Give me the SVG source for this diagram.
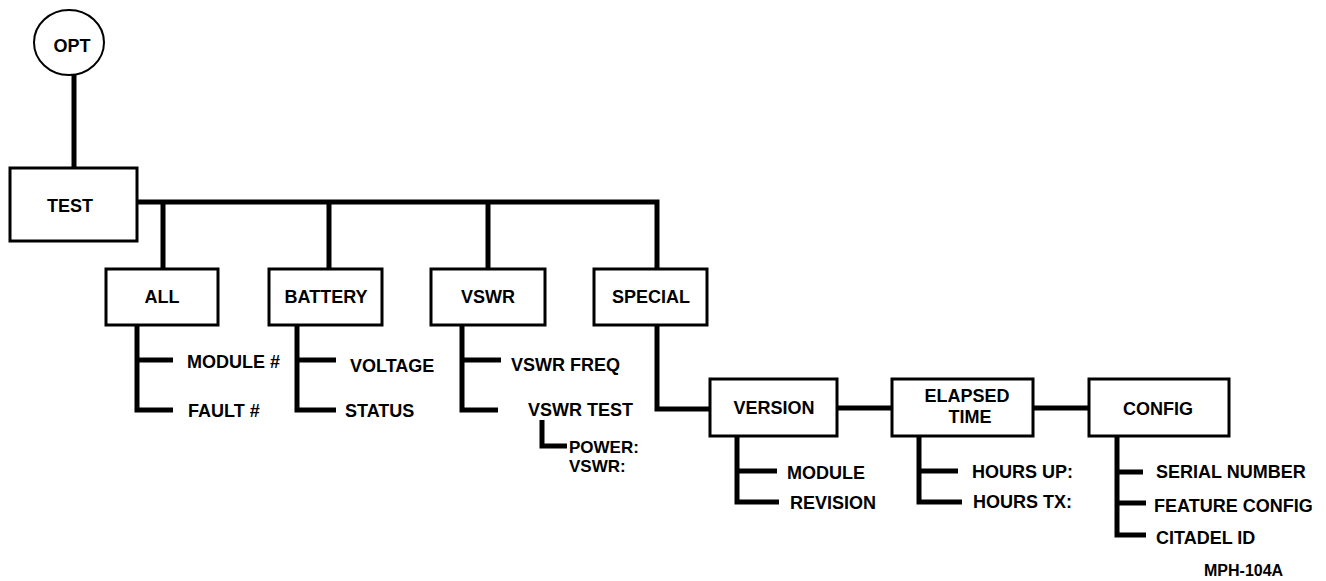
<svg xmlns="http://www.w3.org/2000/svg" width="1326" height="581" viewBox="0 0 1326 581">
<style>
.box{fill:#fff;stroke:#000;stroke-width:3}
.circ{fill:#fff;stroke:#000;stroke-width:2}
.ln{fill:none;stroke:#000;stroke-width:5;stroke-linecap:butt;stroke-linejoin:miter}
text{font-family:"Liberation Sans",Arial,sans-serif;font-weight:bold;font-size:18px;fill:#000}
.c{text-anchor:middle}
.s{font-size:16px}
.t{font-size:17px}
</style>
<rect width="1326" height="581" fill="#fff"/>
<g id="connectors">
<path class="ln" d="M74,75 V168"/>
<path class="ln" d="M137,202 H657 V269"/>
<path class="ln" d="M163,202 V269 M329,202 V269 M488,202 V269"/>
<path class="ln" d="M137,325 V412.5 M134.5,360 H173 M134.5,410 H173"/>
<path class="ln" d="M297,325 V412.5 M294.5,360 H336 M294.5,410 H336"/>
<path class="ln" d="M462,325 V412.5 M459.5,360 H501 M459.5,410 H498"/>
<path class="ln" d="M542,420 V446 H567"/>
<path class="ln" d="M657,325 V409 H710"/>
<path class="ln" d="M837,408 H892 M1033,408 H1089"/>
<path class="ln" d="M737,436 V504.5 M734.5,471 H777 M734.5,502 H779"/>
<path class="ln" d="M919,436 V504.5 M916.5,471 H958 M916.5,502 H962"/>
<path class="ln" d="M1117,436 V537.5 M1114.5,472 H1143 M1114.5,503 H1146 M1114.5,535 H1146"/>
</g>
<g id="opt"><ellipse class="circ" cx="69" cy="42.5" rx="35" ry="32.5"/><text class="c" x="72" y="51.5" font-size="17">OPT</text></g>
<g id="test"><rect class="box" x="10" y="168" width="127" height="73"/><text class="c" x="70" y="211.5">TEST</text></g>
<g id="all"><rect class="box" x="106" y="269" width="112" height="56"/><text class="c" x="162" y="303">ALL</text></g>
<g id="battery"><rect class="box" x="269" y="269" width="113" height="56"/><text class="c" x="326" y="303">BATTERY</text></g>
<g id="vswr"><rect class="box" x="431" y="269" width="114" height="56"/><text class="c" x="488" y="303">VSWR</text></g>
<g id="special"><rect class="box" x="594" y="269" width="113" height="56"/><text class="c" x="651" y="303">SPECIAL</text></g>
<g id="version"><rect class="box" x="710" y="379" width="127" height="57"/><text class="c" x="774" y="414">VERSION</text></g>
<g id="elapsed"><rect class="box" x="892" y="379" width="141" height="57"/><text class="c" x="967" y="401.5">ELAPSED</text><text class="c" x="970" y="422.5">TIME</text></g>
<g id="config"><rect class="box" x="1089" y="379" width="140" height="57"/><text class="c" x="1158" y="415">CONFIG</text></g>
<g id="all-items"><text x="187" y="368">MODULE #</text><text x="188" y="417">FAULT #</text></g>
<g id="battery-items"><text x="350" y="372">VOLTAGE</text><text x="345" y="417">STATUS</text></g>
<g id="vswr-items"><text x="511" y="371">VSWR FREQ</text><text x="528" y="416">VSWR TEST</text><text class="t" x="569" y="452.5">POWER:</text><text class="t" x="569" y="471.5">VSWR:</text></g>
<g id="version-items"><text x="787" y="479">MODULE</text><text x="790" y="509">REVISION</text></g>
<g id="elapsed-items"><text x="972" y="478">HOURS UP:</text><text x="973" y="508">HOURS TX:</text></g>
<g id="config-items"><text x="1156" y="478">SERIAL NUMBER</text><text x="1154" y="512">FEATURE CONFIG</text><text x="1156" y="544">CITADEL ID</text></g>
<g id="label"><text class="s" x="1204" y="576">MPH-104A</text></g>
</svg>
